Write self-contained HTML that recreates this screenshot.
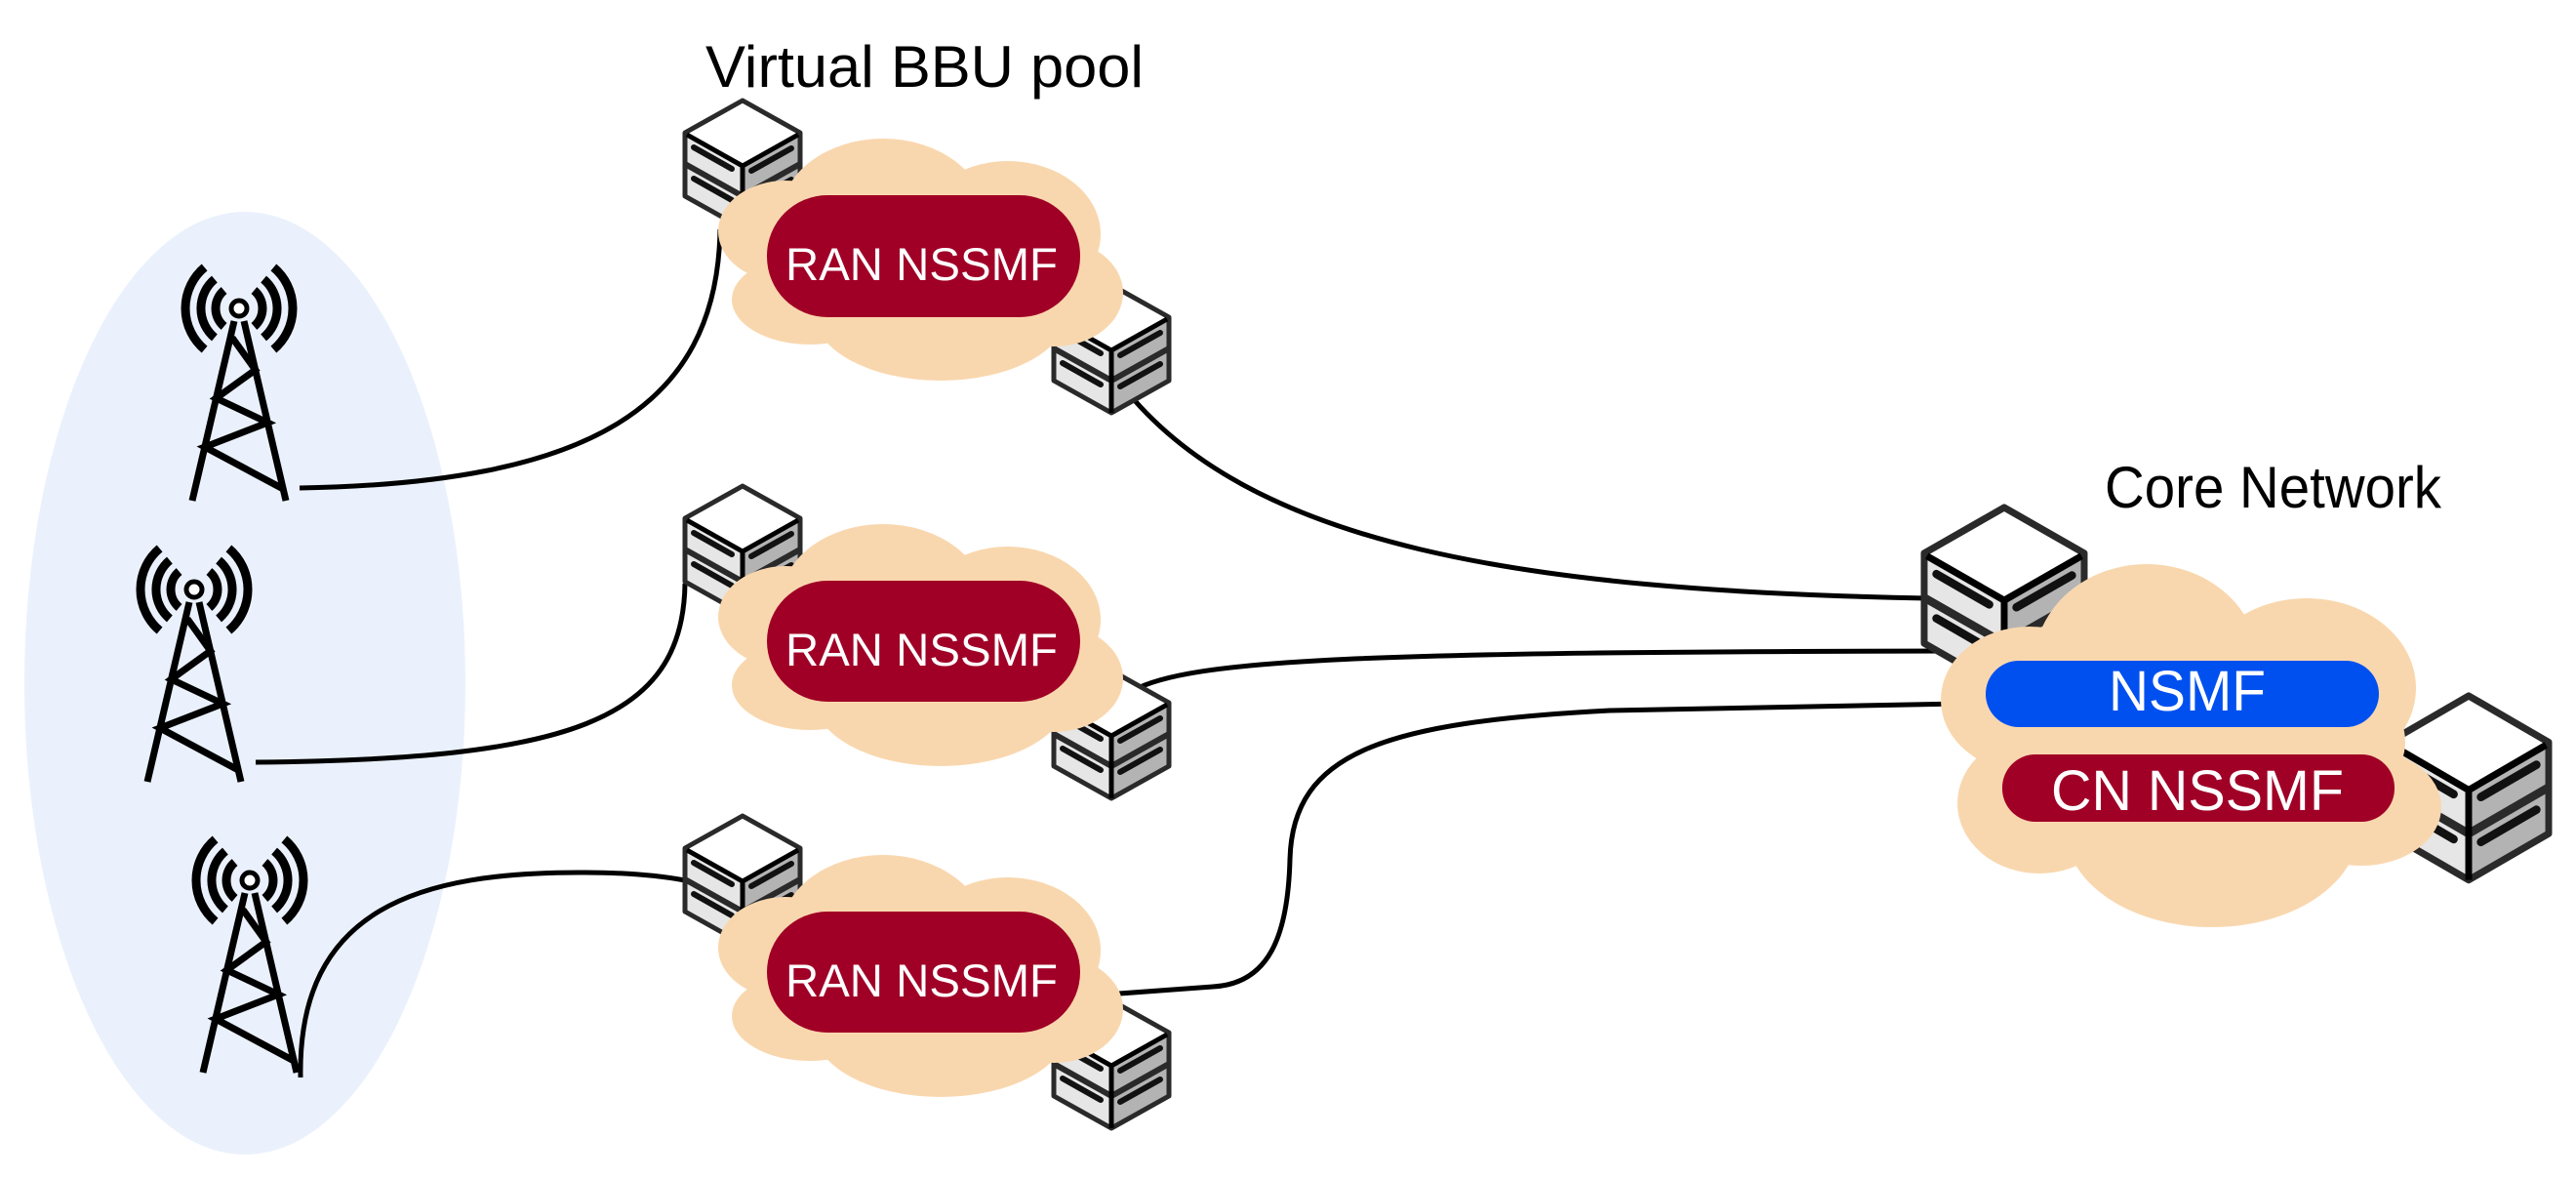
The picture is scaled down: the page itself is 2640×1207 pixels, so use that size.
<!DOCTYPE html>
<html><head><meta charset="utf-8"><style>
html,body{margin:0;padding:0;background:#fff;}
svg{display:block;}
text{font-family:"Liberation Sans",sans-serif;}
</style></head><body>
<svg width="2640" height="1207" viewBox="0 0 2640 1207" xmlns="http://www.w3.org/2000/svg">
<defs>
<g id="srv">
 <polygon points="0,0 59,33 0,66 -59,33" fill="#fff"/>
 <polygon points="-59,33 0,66 0,131 -59,98" fill="#e6e6e6"/>
 <polygon points="0,66 59,33 59,98 0,131" fill="#b3b3b3"/>
 <polyline points="-59,65 0,98 59,65" fill="none" stroke="#2a2a2a" stroke-width="6"/>
 <polygon points="0,0 59,33 59,98 0,131 -59,98 -59,33" fill="none" stroke="#2a2a2a" stroke-width="5" stroke-linejoin="round"/>
 <polyline points="-57,35 0,67 57,35" fill="none" stroke="#000" stroke-width="5"/>
 <line x1="0" y1="66" x2="0" y2="131" stroke="#000" stroke-width="5"/>
 <g stroke="#111" stroke-width="6" stroke-linecap="round">
  <line x1="-50" y1="48" x2="-11" y2="70"/><line x1="9" y1="72" x2="50" y2="49"/>
  <line x1="-50" y1="80" x2="-11" y2="102"/><line x1="9" y1="104" x2="50" y2="81"/>
 </g>
</g>
<g id="tower" fill="none" stroke="#000">
 <g stroke-width="9">
  <path d="M15.4,-18.4 A24,24 0 0 1 15.4,18.4"/>
  <path d="M25.1,-29.9 A39,39 0 0 1 25.1,29.9"/>
  <path d="M35.4,-42.1 A55,55 0 0 1 35.4,42.1"/>
  <path d="M-15.4,-18.4 A24,24 0 0 0 -15.4,18.4"/>
  <path d="M-25.1,-29.9 A39,39 0 0 0 -25.1,29.9"/>
  <path d="M-35.4,-42.1 A55,55 0 0 0 -35.4,42.1"/>
 </g>
 <g stroke-width="7">
  <line x1="-5" y1="13" x2="-48" y2="197"/>
  <line x1="5" y1="13" x2="48" y2="197"/>
  <polyline points="-7,30 16.7,63 -23.5,92 29.3,117 -35.1,142 45.2,185" stroke-linejoin="miter"/>
 </g>
 <circle cx="0" cy="0" r="8" fill="#fff" stroke-width="5"/>
</g>
<g id="cloud" fill="#f9d7ae">
 <ellipse cx="-41" cy="-40" rx="105" ry="80"/>
 <ellipse cx="87" cy="-22" rx="95" ry="75"/>
 <ellipse cx="-141" cy="-25" rx="69" ry="52"/>
 <ellipse cx="-116" cy="45" rx="80" ry="46"/>
 <ellipse cx="18" cy="58" rx="130" ry="70"/>
 <ellipse cx="134" cy="38" rx="71" ry="55"/>
 <ellipse cx="0" cy="3" rx="170" ry="75"/>
</g>
</defs>

<ellipse cx="251" cy="700" rx="226" ry="483" fill="#eaf1fc"/>

<use href="#tower" x="245" y="316"/>
<use href="#tower" x="199" y="604"/>
<use href="#tower" x="256" y="902"/>

<g fill="none" stroke="#000" stroke-width="5">
 <path d="M307,500 C600,495 735,420 738,235"/>
 <path d="M262,781 C580,778 700,740 702,598"/>
 <path d="M308,1104 C305,930 430,893 600,894 C650,894 680,898 702,902"/>
 <path d="M1150,395 C1280,560 1560,605 1975,613"/>
 <path d="M1160,708 C1220,675 1400,668 2005,667"/>
 <path d="M1120,1020 L1243,1011 C1300,1008 1320,960 1322,880 C1325,770 1420,740 1650,728 L2010,721"/>
</g>

<use href="#srv" x="761" y="103"/>
<use href="#srv" x="1139" y="292"/>
<use href="#srv" x="761" y="498"/>
<use href="#srv" x="1139" y="687"/>
<use href="#srv" x="761" y="836"/>
<use href="#srv" x="1139" y="1025"/>
<use href="#srv" transform="translate(2054,520) scale(1.39,1.42)"/>
<use href="#srv" transform="translate(2530,713) scale(1.39,1.44)"/>

<use href="#cloud" x="946" y="262"/>
<use href="#cloud" x="946" y="657"/>
<use href="#cloud" x="946" y="996"/>

<g fill="#f9d7ae">
 <ellipse cx="2200" cy="680" rx="115" ry="102"/>
 <ellipse cx="2364" cy="705" rx="112" ry="92"/>
 <ellipse cx="2080" cy="717" rx="91" ry="75"/>
 <ellipse cx="2090" cy="823" rx="84" ry="72"/>
 <ellipse cx="2267" cy="850" rx="150" ry="100"/>
 <ellipse cx="2420" cy="827" rx="82" ry="60"/>
 <ellipse cx="2245" cy="760" rx="220" ry="110"/>
</g>

<g fill="#a00026">
 <rect x="786" y="200" width="321" height="125" rx="62"/>
 <rect x="786" y="595" width="321" height="124" rx="62"/>
 <rect x="786" y="934" width="321" height="124" rx="62"/>
 <rect x="2052" y="773" width="402" height="69" rx="34"/>
</g>
<rect x="2035" y="677" width="403" height="68" rx="34" fill="#0050ef"/>

<g fill="#fff" font-size="47">
 <text x="805" y="287" textLength="279" lengthAdjust="spacingAndGlyphs">RAN NSSMF</text>
 <text x="805" y="682" textLength="279" lengthAdjust="spacingAndGlyphs">RAN NSSMF</text>
 <text x="805" y="1021" textLength="279" lengthAdjust="spacingAndGlyphs">RAN NSSMF</text>
 <text x="2161" y="728" font-size="58" textLength="161" lengthAdjust="spacingAndGlyphs">NSMF</text>
 <text x="2102" y="830" font-size="58" textLength="300" lengthAdjust="spacingAndGlyphs">CN NSSMF</text>
</g>
<g fill="#000" font-size="60">
 <text x="723" y="89" textLength="449" lengthAdjust="spacingAndGlyphs">Virtual BBU pool</text>
 <text x="2157" y="520" textLength="345" lengthAdjust="spacingAndGlyphs">Core Network</text>
</g>
</svg>
</body></html>
